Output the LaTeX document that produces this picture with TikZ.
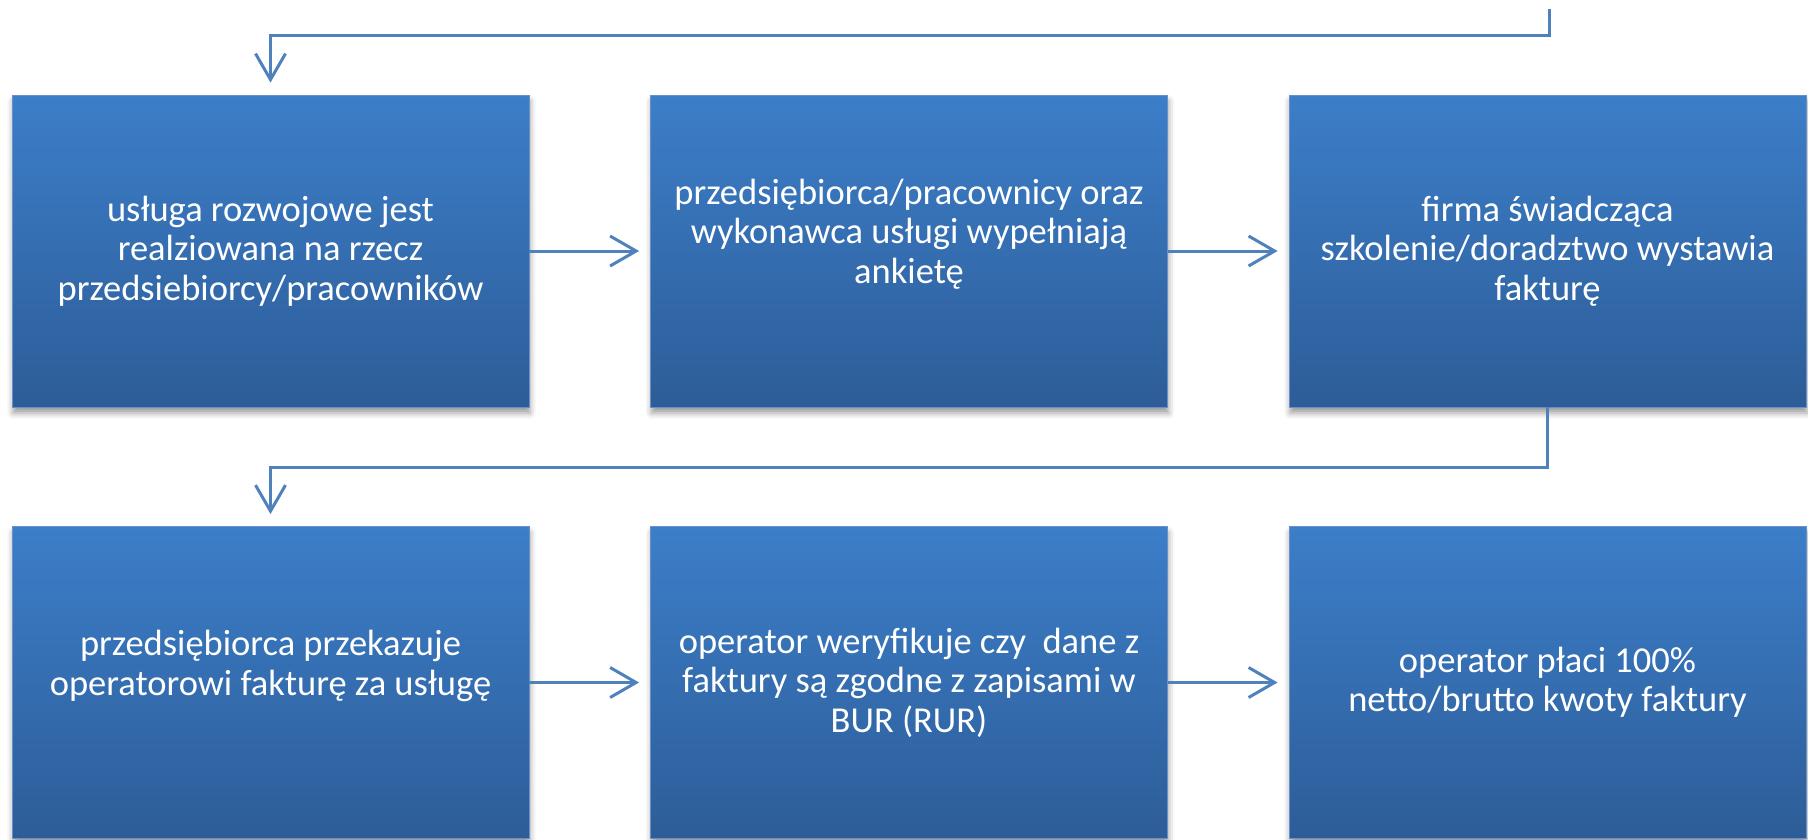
\documentclass[tikz,border=0pt]{standalone}
\usepackage{fontspec}
\setmainfont{Carlito}
\usetikzlibrary{arrows.meta,shadows.blur}
\definecolor{boxtop}{RGB}{60,126,201}
\definecolor{boxbot}{RGB}{45,93,152}
\definecolor{boxedge}{RGB}{105,145,200}
\definecolor{linec}{RGB}{79,129,189}
\tikzset{
  flowbox/.style={rectangle, minimum width=517pt, minimum height=312pt,
    top color=boxtop, bottom color=boxbot, draw=boxedge, line width=0.8pt,
    text=white, align=center, font=\fontsize{36.5}{39.5}\selectfont, inner sep=0pt,
    blur shadow={shadow xshift=1pt, shadow yshift=-6pt, shadow blur radius=6pt, shadow opacity=40}},
  conn/.style={draw=linec, line width=3pt, line join=miter,
    -{Straight Barb[length=26pt,width=30pt,line width=3pt]}}
}
\begin{document}
\begin{tikzpicture}[x=1pt,y=1pt]
\useasboundingbox (0,0) rectangle (1808,-839);
\node[flowbox] (b1) at (270.5,-251) {usługa rozwojowe jest\\realziowana na rzecz\\przedsiebiorcy/pracowników};
\node[flowbox] (b2) at (909,-251) {przedsiębiorca/pracownicy oraz\\wykonawca usługi wypełniają\\ankietę\\\mbox{}};
\node[flowbox] (b3) at (1547.5,-251) {firma świadcząca\\szkolenie/doradztwo wystawia\\fakturę};
\node[flowbox] (b4) at (270.5,-682.5) {przedsiębiorca przekazuje\\operatorowi fakturę za usługę\\\mbox{}};
\node[flowbox] (b5) at (909,-682.5) {operator weryfikuje czy~ dane z\\faktury są zgodne z zapisami w\\BUR (RUR)};
\node[flowbox] (b6) at (1547.5,-682.5) {operator płaci 100\%\\netto/brutto kwoty faktury};
\coordinate (top) at (1549,-9);
\draw[conn, shorten >=12pt] (top) -- (1549,-35) -- (270.5,-35) -- (b1.north);
\draw[conn, shorten >=11pt] (b1.east) -- (b2.west);
\draw[conn, shorten >=11pt] (b2.east) -- (b3.west);
\draw[conn, shorten >=12pt] (b3.south) -- ++(0,-60) -| (b4.north);
\draw[conn, shorten >=11pt] (b4.east) -- (b5.west);
\draw[conn, shorten >=11pt] (b5.east) -- (b6.west);
\end{tikzpicture}
\end{document}
